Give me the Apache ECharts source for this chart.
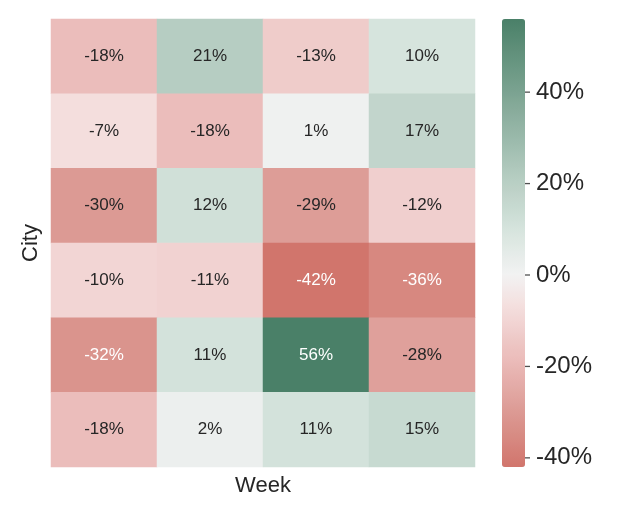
<!DOCTYPE html>
<html>
<head>
<meta charset="utf-8">
<script src="https://cdn.jsdelivr.net/npm/echarts@6/dist/echarts.min.js"></script>
<style>
html,body{margin:0;padding:0;background:#fff;}
#c{width:622px;height:519px;}
</style>
</head>
<body>
<div id="c"></div>
<script>
const weeks = ['Week 1', 'Week 2', 'Week 3', 'Week 4'];
const cities = ['City 1', 'City 2', 'City 3', 'City 4', 'City 5', 'City 6'];
// percent change, rows = cities (top to bottom), columns = weeks
const values = [
  [-18, 21, -13, 10],
  [-7, -18, 1, 17],
  [-30, 12, -29, -12],
  [-10, -11, -42, -36],
  [-32, 11, 56, -28],
  [-18, 2, 11, 15]
];
const colorbarTicks = [-40, -20, 0, 20, 40];
const vMin = -42, vMax = 56;

// colour anchors of the diverging colour scale (value, colour)
const stopValues = [-42, -30, -18, -7, 0, 10, 21, 56];
const stopColors = ['#d1756c', '#dc9a94', '#ebbdbb', '#f4dedd', '#f2f2f2', '#d6e4dd', '#b6cdc2', '#4a8068'];

function hex(c) { return [1, 3, 5].map(i => parseInt(c.substr(i, 2), 16)); }
function colorAt(v) {
  let i = 0;
  while (i < stopValues.length - 2 && v > stopValues[i + 1]) i++;
  const t = (v - stopValues[i]) / (stopValues[i + 1] - stopValues[i]);
  const a = hex(stopColors[i]), b = hex(stopColors[i + 1]);
  return 'rgb(' + a.map((x, k) => Math.round(x + (b[k] - x) * t)).join(',') + ')';
}
const palette = [];
for (let v = vMin; v <= vMax; v++) palette.push(colorAt(v));

const data = [];
values.forEach((row, r) => row.forEach((v, c) => {
  const dark = v <= -32 || v >= 40;
  data.push({ value: [c, r, v], label: { color: dark ? '#ffffff' : '#262626' } });
}));

const font = 'Liberation Sans, Arial, sans-serif';
const chart = echarts.init(document.getElementById('c'), null, { renderer: 'canvas' });
chart.setOption({
  backgroundColor: '#ffffff',
  animation: false,
  grid: [
    { left: 51, right: 147, top: 19, bottom: 52 },
    { left: 502, width: 23, top: 19, bottom: 52 }
  ],
  xAxis: [
    { type: 'category', data: weeks, gridIndex: 0, name: 'Week', nameLocation: 'middle', nameGap: 8,
      nameTextStyle: { fontSize: 22, color: '#262626', fontFamily: font },
      axisLine: { show: false }, axisTick: { show: false }, axisLabel: { show: false }, splitLine: { show: false } },
    { type: 'value', gridIndex: 1, min: 0, max: 1, show: false }
  ],
  yAxis: [
    { type: 'category', data: cities, inverse: true, gridIndex: 0, name: 'City', nameLocation: 'middle', nameGap: 9,
      nameTextStyle: { fontSize: 22, color: '#262626', fontFamily: font },
      axisLine: { show: false }, axisTick: { show: false }, axisLabel: { show: false }, splitLine: { show: false } },
    { type: 'value', gridIndex: 1, min: vMin, max: vMax, position: 'right',
      axisLine: { show: false },
      axisTick: { show: false },
      axisLabel: { show: true, customValues: colorbarTicks, margin: 11, fontSize: 24, color: '#262626', fontFamily: font,
        formatter: v => v + '%' },
      splitLine: { show: false } }
  ],
  visualMap: {
    type: 'continuous', min: vMin, max: vMax, seriesIndex: 0, calculable: false, show: true,
    orient: 'vertical', left: 502, top: 19, itemWidth: 23, itemHeight: 448, padding: 0,
    text: ['', ''], showLabel: false, inRange: { color: palette }
  },
  series: [{
    type: 'heatmap', xAxisIndex: 0, yAxisIndex: 0, data: data,
    label: { show: true, fontSize: 17, fontFamily: font, formatter: p => p.value[2] + '%' },
    itemStyle: { borderWidth: 0 },
    emphasis: { disabled: true }
  }, {
    type: 'scatter', xAxisIndex: 1, yAxisIndex: 1, z: 10, silent: true,
    data: colorbarTicks.map(v => [1, v]),
    symbol: 'rect', symbolSize: [5, 1.3], symbolOffset: [2.5, 0],
    itemStyle: { color: '#262626' }
  }]
});
</script>
</body>
</html>
